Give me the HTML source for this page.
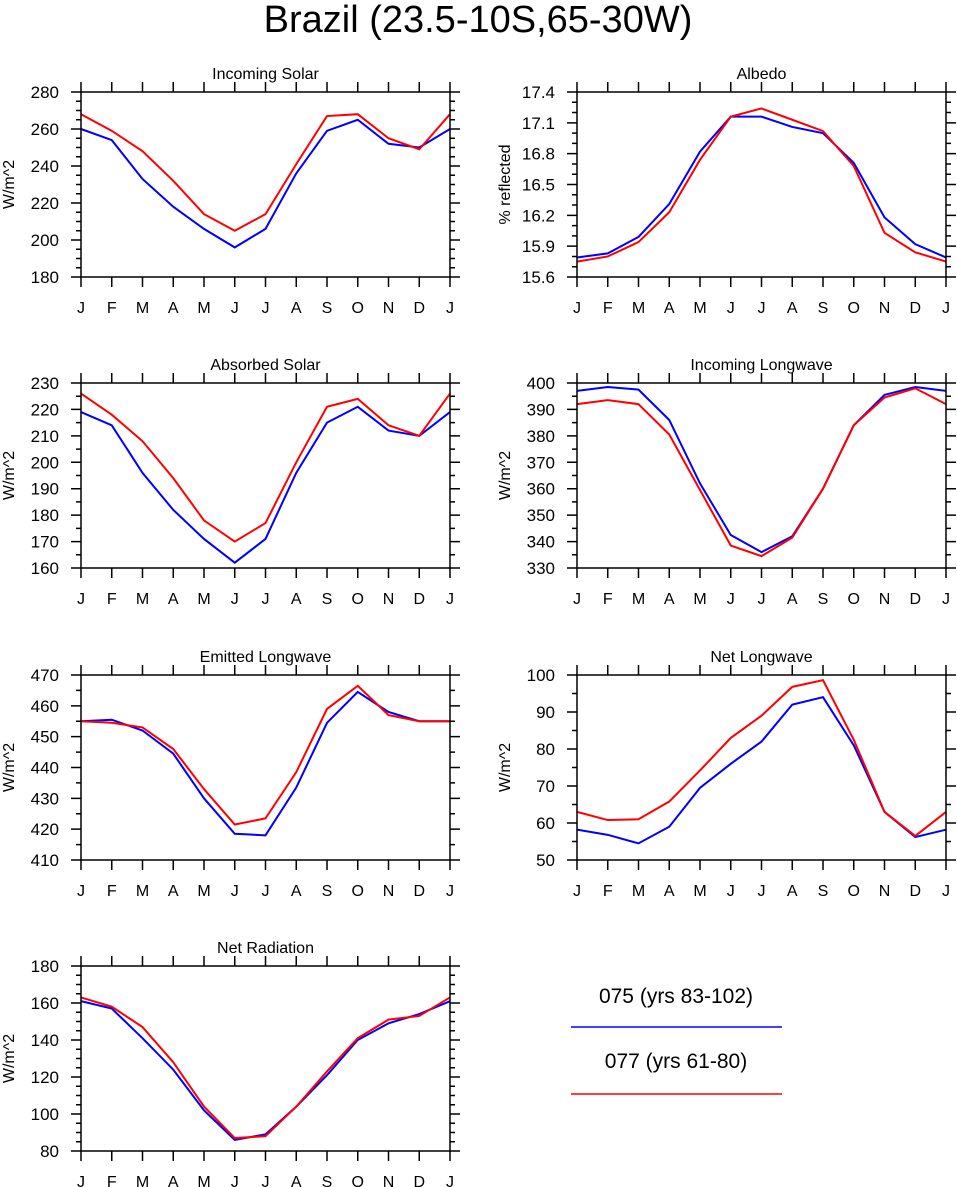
<!DOCTYPE html>
<html><head><meta charset="utf-8"><style>
body{margin:0;background:#fff;}
svg{display:block;font-family:"Liberation Sans",Arial,sans-serif;}
</style></head><body>
<svg id="chart" width="957" height="1187" viewBox="0 0 957 1187">
<text x="478" y="32" font-size="38" text-anchor="middle">Brazil (23.5-10S,65-30W)</text>
<g>
<text x="676" y="1003" font-size="21" text-anchor="middle">075 (yrs 83-102)</text>
<line x1="571" y1="1027" x2="782" y2="1027" stroke="#0000ff" stroke-width="1.5"/>
<text x="676" y="1068" font-size="21" text-anchor="middle">077 (yrs 61-80)</text>
<line x1="571" y1="1094" x2="782" y2="1094" stroke="#ff0000" stroke-width="1.5"/>
</g>
</svg>
<script>
const months = ["J","F","M","A","M","J","J","A","S","O","N","D","J"];
const solarBlue = [260,254,233,218,206,196,206,236,259,265,252,250,260];
const solarRed = [268,259,248,232,214,205,214,241,267,268,255,249,268];
const albedoBlue = [15.79,15.83,15.99,16.31,16.82,17.16,17.16,17.06,17.00,16.71,16.18,15.92,15.79];
const albedoRed = [15.75,15.80,15.94,16.23,16.74,17.16,17.24,17.13,17.02,16.68,16.03,15.84,15.75];
const absorbedBlue = [219,214,196,182,171,162,171,196,215,221,212,210,219];
const absorbedRed = [226,218,208,194,178,170,177,200,221,224,214,210,226];
const inLwBlue = [397,398.5,397.5,386,362,342.5,336,342,360,384,395.5,398.5,397];
const inLwRed = [392,393.5,392,380.5,359.5,338.5,334.5,341.5,360,384,394.5,398,392];
const emLwBlue = [455,455.5,452,444.5,430,418.5,418,433.5,454.5,464.5,458,455,455];
const emLwRed = [455,454.5,453,446,433,421.5,423.5,438.5,459,466.5,457,455,455];
const netLwBlue = [58.2,56.8,54.5,59,69.5,76,82,92,94,81,63,56.2,58.2];
const netLwRed = [63,60.8,61,65.8,74.2,83,89,96.8,98.6,82.5,63,56.5,63];
const netRadBlue = [161,157,141,124,102,86,89,104,121,140,149,154,161];
const netRadRed = [163,158,147,128,104,87,88,104,123,141,151,153,163];
const solarTicks = [180,200,220,240,260,280];
const albedoTicks = ["15.6","15.9","16.2","16.5","16.8","17.1","17.4"];
const absorbedTicks = [160,170,180,190,200,210,220,230];
const inLwTicks = [330,340,350,360,370,380,390,400];
const emLwTicks = [410,420,430,440,450,460,470];
const netLwTicks = [50,60,70,80,90,100];
const netRadTicks = [80,100,120,140,160,180];

const svg = document.getElementById('chart');
const NS = 'http://www.w3.org/2000/svg';
function mk(tag, attrs, parent){const e=document.createElementNS(NS,tag);for(const k in attrs)e.setAttribute(k,attrs[k]);parent.appendChild(e);return e;}

function panel(id, title, ylab, x0, y0, ticks, minorPerMajor, blue, red){
  const W=369, H=185;
  const g = mk('g',{},svg);
  
  
  const tv = ticks.map(Number);
  const ymin=tv[0], ymax=tv[tv.length-1];
  const xs = i => x0 + i*W/12;
  const ys = v => y0 + H - (v-ymin)/(ymax-ymin)*H;
  const t = mk('text',{x:x0+W/2,y:y0-13,'font-size':16,'text-anchor':'middle'},g);
  t.textContent = title;
  
  
  const yl = mk('text',{x:0,y:0,'font-size':16,'text-anchor':'middle',transform:`translate(${x0-67},${y0+H/2}) rotate(-90)`},g);
  yl.textContent = ylab;
  
  
  let d='';
  months.forEach((m,i)=>{
    const x=xs(i);
    d+=`M${x},${y0+H}v10M${x},${y0}v-10`;
    const l=mk('text',{x:x,y:y0+H+36,'font-size':16,'text-anchor':'middle'},g);
    l.textContent=m;
    
    
  });
  tv.forEach((v,i)=>{
    const y=ys(v);
    d+=`M${x0},${y}h-10M${x0+W},${y}h10`;
    const l=mk('text',{x:x0-22,y:y+6,'font-size':17,'text-anchor':'end'},g);
    l.textContent=ticks[i];
    
    
    if(i<tv.length-1){
      for(let k=1;k<minorPerMajor;k++){
        const ym=ys(v+(tv[i+1]-v)*k/minorPerMajor);
        d+=`M${x0},${ym}h-5M${x0+W},${ym}h5`;
      }
    }
  });
  const tk=mk('path',{d:d,stroke:'#000','stroke-width':1.5,fill:'none'},g);
  
  
  [[blue,'#0000ff','series-075'],[red,'#ff0000','series-077']].forEach(([arr,c,n])=>{
    const p=mk('polyline',{points:arr.map((v,i)=>xs(i)+','+ys(v)).join(' '),stroke:c,'stroke-width':2,fill:'none'},g);
    
    
  });
  const fr=mk('rect',{x:x0,y:y0,width:W,height:H,fill:'none',stroke:'#000','stroke-width':1.5},g);
  
  
}
panel('incoming-solar','Incoming Solar','W/m^2',81,92,solarTicks,4,solarBlue,solarRed);
panel('albedo','Albedo','% reflected',577,92,albedoTicks,3,albedoBlue,albedoRed);
panel('absorbed-solar','Absorbed Solar','W/m^2',81,383,absorbedTicks,2,absorbedBlue,absorbedRed);
panel('incoming-longwave','Incoming Longwave','W/m^2',577,383,inLwTicks,2,inLwBlue,inLwRed);
panel('emitted-longwave','Emitted Longwave','W/m^2',81,675,emLwTicks,2,emLwBlue,emLwRed);
panel('net-longwave','Net Longwave','W/m^2',577,675,netLwTicks,2,netLwBlue,netLwRed);
panel('net-radiation','Net Radiation','W/m^2',81,966,netRadTicks,4,netRadBlue,netRadRed);
</script>
</body></html>
